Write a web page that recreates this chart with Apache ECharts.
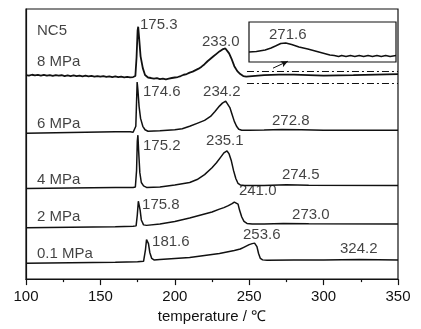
<!DOCTYPE html>
<html>
<head>
<meta charset="utf-8">
<script src="https://cdn.jsdelivr.net/npm/echarts@6/dist/echarts.min.js"></script>
<style>
  html, body { margin: 0; padding: 0; background: #fff; }
  #chart { width: 421px; height: 329px; }
</style>
</head>
<body>
<div id="chart"></div>
<script>
// DSC traces, [temperature, heat flow (a.u., stacked offsets)]
const p8 = [
  [100, 207], [102, 206.4], [104, 207.3], [106, 206.6], [108, 207.2], [110, 206.5], [112, 207.1],
  [114, 206.3], [116, 207], [118, 206.2], [120, 206.9], [122, 206.3], [124, 206.8], [126, 206], [128, 206.7],
  [130, 206], [132, 206.6], [134, 205.8], [136, 206.5], [138, 205.7], [140, 206.3], [142, 205.6],
  [144, 206.2], [146, 205.4], [148, 206], [150, 205.3], [152, 205.9], [154, 205.2], [156, 205.7],
  [158, 205], [160, 205.6], [162, 204.8], [164, 205.4], [166, 204.7], [168, 205.2], [170, 204.6],
  [172, 205], [173.5, 206], [174.3, 225], [175, 252], [175.4, 256], [176, 245], [177, 226],
  [178.5, 214], [180, 207], [182, 204.5], [184, 204], [186, 203.3], [188, 203.8], [190, 202.8],
  [192, 203.4], [194, 202.6], [196, 203.4], [198, 204], [200, 204.5], [202, 205], [204, 206], [206, 207.3],
  [208, 208], [210, 209.5], [212, 210.5], [214, 212], [216, 213.5], [218, 215.5], [220, 218], [222, 221],
  [224, 223.5], [226, 226], [228, 228.5], [230, 231], [232, 233], [234, 234], [235, 232.5], [236.5, 229],
  [238, 224], [240, 216], [242, 211], [244, 208], [246, 206], [248, 205.5], [260, 207], [270, 207.5],
  [280, 207.5], [290, 207], [300, 206.5], [320, 207], [350, 208]
];
const p6 = [
  [100, 148], [120, 148.5], [140, 149], [160, 149.5], [170, 149.5], [172, 149], [173, 148.5], [173.8, 155],
  [174.3, 180], [174.7, 200], [175.2, 192], [176, 175], [177, 163], [178.5, 155], [180, 151.5], [182, 150],
  [190, 150.5], [200, 151.5], [205, 152.5], [210, 155], [215, 158], [220, 161], [224, 165], [227, 170],
  [230, 175.5], [232, 178.5], [234.2, 180.5], [235.5, 179], [237, 174], [238.5, 167], [240, 160],
  [241.5, 155], [243, 152], [245, 151], [250, 151], [260, 151.2], [272, 151.8], [285, 151.4], [300, 151],
  [320, 151], [350, 151]
];
const p4 = [
  [100, 92], [130, 92.5], [160, 93], [172, 93], [173.5, 93.5], [174.3, 110], [174.8, 140], [175.2, 146],
  [175.7, 130], [176.5, 108], [177.5, 98], [179, 94.5], [181, 93], [190, 93.5], [200, 95.5], [210, 98],
  [215, 101], [220, 106], [225, 113], [228, 118], [231, 124], [233, 128], [235.1, 130], [236.5, 127],
  [238, 120], [239.5, 110], [241, 102], [242.5, 97], [244, 95.5], [247, 95], [260, 95], [275, 95.6],
  [290, 95.2], [350, 95]
];
const p2 = [
  [100, 52], [130, 52.5], [160, 53], [172, 53.5], [174, 54], [174.8, 65], [175.5, 79], [176, 80],
  [176.7, 70], [177.5, 60], [179, 55], [181, 54.5], [190, 56], [200, 58.5], [210, 62], [220, 66],
  [225, 68], [230, 71], [233, 72.5], [236, 74.5], [238.5, 76.5], [240, 78], [241.2, 78.5], [242.5, 76],
  [243.5, 70], [245, 63], [246.5, 58.5], [248.5, 56.5], [252, 56], [260, 56], [273, 56.5], [290, 56.2],
  [350, 56]
];
const p01 = [
  [100, 16], [130, 16.5], [160, 17], [175, 17.5], [179, 18], [180.3, 30], [181, 40], [181.6, 41.5],
  [182.3, 36], [183.2, 27], [184.5, 21], [186, 19.5], [190, 20], [200, 21], [210, 22], [220, 24],
  [230, 26], [240, 29], [244, 30.5], [246, 32], [248, 33.5], [250, 35], [252, 36], [253.6, 36.5],
  [255.2, 33], [256.3, 26], [257.5, 21], [259, 19.5], [262, 19], [280, 19.5], [300, 19.5], [324, 19.8],
  [350, 19.5]
];
// magnified 8 MPa tail shown in the inset
const inset8 = [
  [250, 10], [255, 10.5], [261, 12], [265, 14], [268, 16], [271.6, 18.5], [275, 19], [279, 17.5],
  [284, 15], [290, 13], [295, 11], [300, 9], [305, 7], [308, 6.5], [311, 5.5], [313, 6.5], [316, 5.5],
  [319, 6.5], [322, 5.5], [325, 6.5], [328, 5.5], [331, 6.5], [334, 5.5], [337, 6.5], [340, 5.5],
  [343, 6.5], [346, 5.5], [350, 6.5]
];

// annotations: [temperature, value, text]
const notes = [
  [107.4, 252, 'NC5'], [107.4, 220, '8 MPa'], [107.4, 157, '6 MPa'], [107.4, 101, '4 MPa'],
  [107.4, 63, '2 MPa'], [107.4, 26, '0.1 MPa'],
  [176.6, 258, '175.3'], [218.3, 241, '233.0'],
  [178.6, 190, '174.6'], [219, 190, '234.2'], [265.3, 161, '272.8'],
  [178.6, 135, '175.2'], [221, 140, '235.1'], [272, 106, '274.5'],
  [178, 75, '175.8'], [243.1, 90, '241.0'], [278.8, 65, '273.0'],
  [184.7, 38, '181.6'], [245.8, 45, '253.6'], [311, 31, '324.2']
];
const insetNotes = [[263.6, 27, '271.6']];

const tempTicks = [100, 150, 200, 250, 300, 350];

const font = 'Liberation Sans, Arial, sans-serif';
const ink = '#111';

function trace(data, width) {
  return {
    type: 'line', data, showSymbol: false, silent: true,
    lineStyle: { color: ink, width: width || 1.5 }
  };
}

function textLayer(data, xi, yi) {
  return {
    type: 'scatter', xAxisIndex: xi, yAxisIndex: yi, symbolSize: 0, silent: true,
    data: data.map(d => ({ value: [d[0], d[1]], name: d[2] })),
    label: {
      show: true, position: 'right', distance: 0, formatter: '{b}',
      color: ink, fontSize: 15, fontFamily: font
    }
  };
}

const dashDot = { color: ink, width: 1.2, type: [7, 3, 2, 3] };

const chart = echarts.init(document.getElementById('chart'));
chart.setOption({
  animation: false,
  grid: [
    { left: 26, right: 23, top: 9, bottom: 46, show: true, borderColor: ink, borderWidth: 1.2 },
    { left: 249, top: 22, width: 147, height: 40, show: true, borderColor: ink, borderWidth: 1.2 }
  ],
  xAxis: [
    {
      type: 'value', min: tempTicks[0], max: tempTicks[tempTicks.length - 1], interval: 50,
      name: 'temperature / ℃', nameLocation: 'middle', nameGap: 18,
      nameTextStyle: { color: ink, fontSize: 15, fontFamily: font },
      axisLine: { lineStyle: { color: ink, width: 1.2 } },
      axisTick: { length: 6, lineStyle: { color: ink, width: 1.2 } },
      minorTick: { show: true, splitNumber: 2, length: 3, lineStyle: { color: ink, width: 1.2 } },
      axisLabel: { color: ink, fontSize: 15, fontFamily: font, margin: 10 },
      splitLine: { show: false }
    },
    { type: 'value', gridIndex: 1, min: 250, max: 350, show: false }
  ],
  yAxis: [
    {
      type: 'value', min: 0, max: 274,
      axisLine: { show: true, lineStyle: { color: ink, width: 1.2 } },
      axisTick: { show: false }, axisLabel: { show: false }, splitLine: { show: false }
    },
    { type: 'value', gridIndex: 1, min: 0, max: 40, show: false }
  ],
  series: [
    Object.assign(trace(p8, 1.8), {
      markLine: {
        silent: true, symbol: 'none', label: { show: false },
        data: [
          [{ coord: [248.5, 211], lineStyle: dashDot }, { coord: [350, 211] }],
          [{ coord: [248.5, 199], lineStyle: dashDot }, { coord: [350, 199] }],
          [
            { coord: [266, 214], symbol: 'none', lineStyle: { color: ink, width: 1, type: 'solid' } },
            { coord: [276, 221], symbol: 'arrow', symbolSize: [5, 7] }
          ]
        ]
      }
    }),
    trace(p6),
    trace(p4),
    trace(p2),
    trace(p01),
    Object.assign(trace(inset8), { xAxisIndex: 1, yAxisIndex: 1 }),
    textLayer(notes, 0, 0),
    textLayer(insetNotes, 1, 1)
  ]
});
</script>
</body>
</html>
